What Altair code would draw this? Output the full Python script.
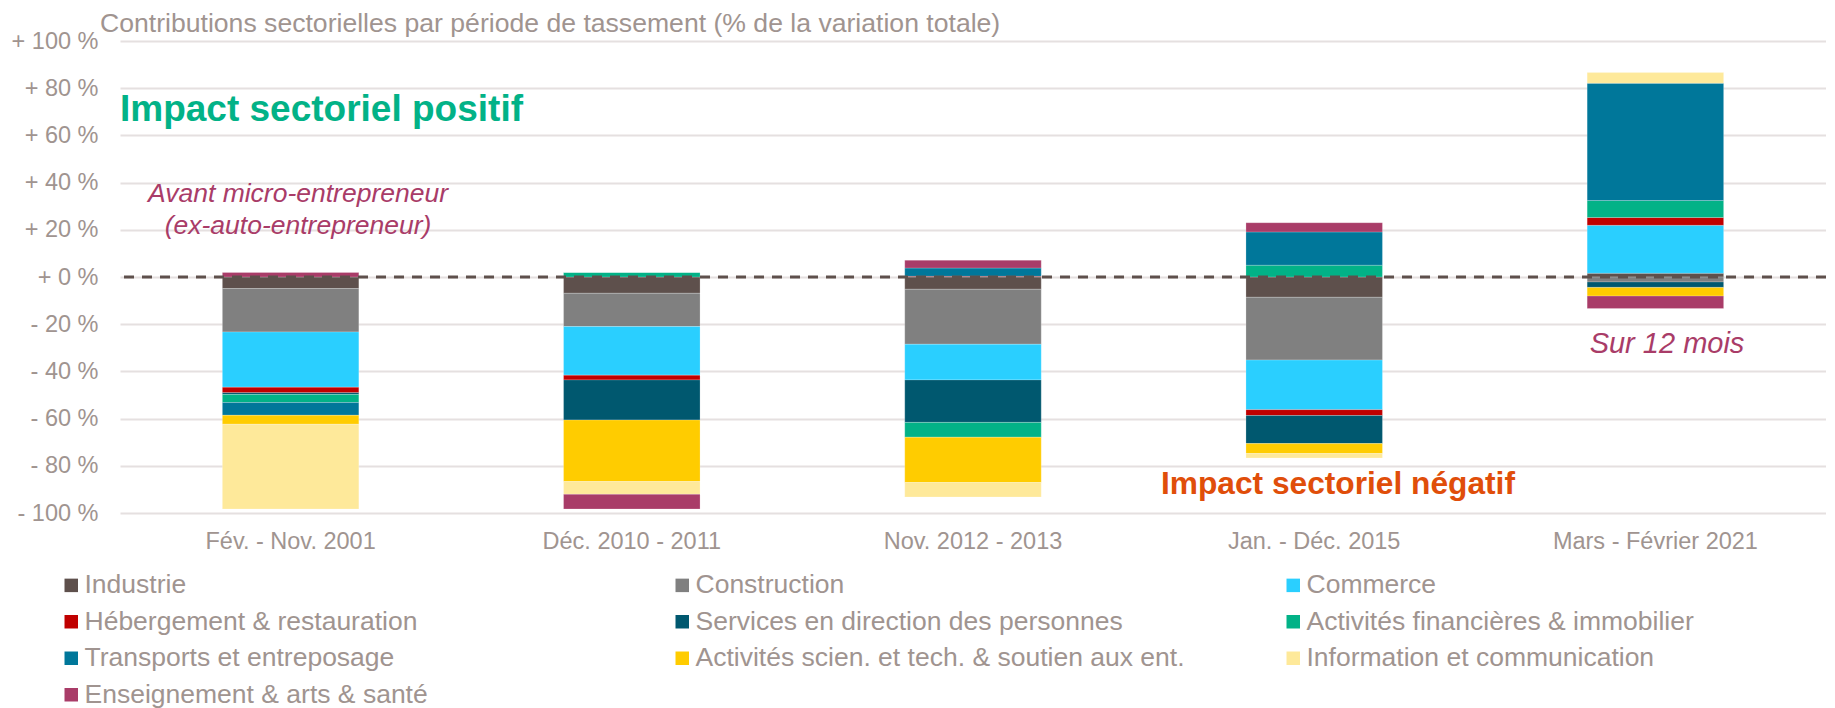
import altair as alt
import pandas as pd

periods = ["Fév. - Nov. 2001", "Déc. 2010 - 2011", "Nov. 2012 - 2013",
           "Jan. - Déc. 2015", "Mars - Février 2021"]
sectors = ["Industrie", "Construction", "Commerce",
           "Hébergement & restauration", "Services en direction des personnes",
           "Activités financières & immobilier", "Transports et entreposage",
           "Activités scien. et tech. & soutien aux ent.",
           "Information et communication", "Enseignement & arts & santé"]
colors = ["#5E504C", "#808080", "#2ACFFF", "#C00000", "#00586F",
          "#02B287", "#00779A", "#FFCC00", "#FEE99A", "#A93C68"]

industrie = [-4.9, -6.9, -5.2, -8.6, 1.6]
construction = [-18.4, -14.1, -23.3, -26.6, -2.1]
commerce = [-23.4, -20.6, -15.1, -21.0, 20.3]
hebergement = [-2.3, -2.0, 0.3, -2.5, 3.3]
services = [-0.8, -17.0, -18.0, -11.9, -2.3]
financieres = [-3.4, 1.9, -6.3, 5.0, 7.2]
transports = [-5.4, 0.0, 3.5, 14.1, 49.7]
scientifiques = [-3.8, -26.1, -19.2, -4.2, -3.7]
information = [-35.9, -5.4, -6.1, -1.9, 4.5]
enseignement = [1.9, -6.2, 3.3, 3.9, -5.3]

series = [industrie, construction, commerce, hebergement, services,
          financieres, transports, scientifiques, information, enseignement]

y_ticks = [-100, -80, -60, -40, -20, 0, 20, 40, 60, 80, 100]

rows = []
for k, (name, vals) in enumerate(zip(sectors, series)):
    for p, v in zip(periods, vals):
        rows.append({"period": p, "sector": name, "value": v, "ord": k})
df = pd.DataFrame(rows)

FONT = "Liberation Sans"
TXT = "#A09490"

bars = alt.Chart(df).mark_bar(stroke="white", strokeWidth=0.6, strokeOpacity=0.35).encode(
    x=alt.X("period:N", sort=periods,
            scale=alt.Scale(paddingInner=0.6, paddingOuter=0.3),
            axis=alt.Axis(title=None, labelFontSize=23.5, labelColor=TXT, labelFont=FONT,
                          domain=False, ticks=False, labelPadding=16, labelAngle=0,
                          grid=False, labelLimit=400)),
    y=alt.Y("value:Q", stack="zero",
            scale=alt.Scale(domain=[-100, 100], nice=False, zero=False),
            axis=alt.Axis(title=None, values=y_ticks,
                          labelExpr="datum.value > 0 ? '+ ' + datum.value + ' %' : (datum.value == 0 ? '+ 0 %' : '- ' + abs(datum.value) + ' %')",
                          labelFontSize=23.5, labelColor=TXT, labelFont=FONT,
                          domain=False, ticks=False, labelPadding=22,
                          gridColor="#E5E0E0", gridWidth=2)),
    color=alt.Color("sector:N", scale=alt.Scale(domain=sectors, range=colors),
                    legend=alt.Legend(title=None, orient="none", direction="horizontal",
                                      legendX=-62, legendY=531,
                                      columns=3, gridAlign="all", columnPadding=95,
                                      rowPadding=9.5, symbolType="square", symbolSize=182,
                                      symbolStrokeWidth=0, labelFontSize=26.5, labelFont=FONT,
                                      labelColor=TXT, labelOffset=0, labelLimit=700, padding=0)),
    order=alt.Order("ord:Q", sort="ascending"),
)

zero_line = alt.Chart(pd.DataFrame({"v": [0]})).mark_rule(
    color="#5E504C", strokeWidth=3, strokeDash=[10, 8]
).encode(y=alt.Y("v:Q"))

def label(text, x, y, size, color, weight="normal", style="normal", align="left"):
    d = pd.DataFrame({"t": [text], "y": [y]})
    return alt.Chart(d).mark_text(
        font=FONT, fontSize=size, color=color, fontWeight=weight, fontStyle=style,
        align=align, baseline="alphabetic"
    ).encode(x=alt.value(x), y=alt.Y("y:Q"), text="t:N")

ann = [
    label("Contributions sectorielles par période de tassement (% de la variation totale)",
          -20, 103.8, 26.6, TXT),
    label("Impact sectoriel positif", 0, 66, 37, "#02B287", weight="bold"),
    label("Avant micro-entrepreneur", 178, 31.6, 26.5, "#A93C68", style="italic", align="center"),
    label("(ex-auto-entrepreneur)", 178, 18.4, 26.5, "#A93C68", style="italic", align="center"),
    label("Sur 12 mois", 1547, -32.3, 29, "#A93C68", style="italic", align="center"),
    label("Impact sectoriel négatif", 1041, -92.1, 31.7, "#E04E0A", weight="bold"),
]

chart = alt.layer(bars, zero_line, *ann).properties(
    width=1706, height=472,
    autosize=alt.AutoSizeParams(type="none"),
    padding={"left": 112, "top": 33, "right": 0, "bottom": 196},
).configure_view(stroke=None)

chart.save("out.html", embed_options={"renderer": "svg", "actions": False})
